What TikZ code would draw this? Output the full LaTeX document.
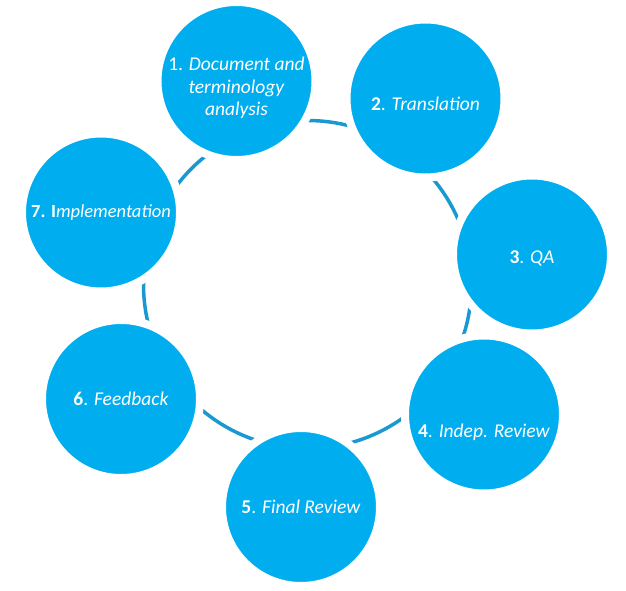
\documentclass[tikz,border=0pt]{standalone}
\usepackage{fontspec}
\setmainfont{Carlito}
\definecolor{stageblue}{HTML}{00AEEF}
\definecolor{ringblue}{HTML}{1A98D2}
\tikzset{
  stage/.style={circle, fill=stageblue, draw=white, line width=8pt,
    minimum size=158pt, inner sep=0pt},
  stagetext/.style={text=white, align=center, font=\fontsize{19.5}{22.5}\selectfont},
  ring/.style={draw=ringblue, line width=3.5pt}
}
\begin{document}
\begin{tikzpicture}[x=1pt, y=-1pt]
  \useasboundingbox (0,0) rectangle (626,591);
  \coordinate (hub) at (307.5,284.5);
  \draw[ring] (hub) circle (164pt);
  \node[stage] (s1) at (236.5,81) {};
  \node[stagetext] (t1) at ([yshift=-7pt]s1) {1. \textit{Document and}\\\textit{terminology}\\\textit{analysis}};
  \node[stage] (s2) at (425.5,98.5) {};
  \node[stagetext] (t2) at ([yshift=-5pt]s2) {\textbf{2}. \textit{Translation}};
  \node[stage] (s3) at (532,254.5) {};
  \node[stagetext] (t3) at ([yshift=-4pt]s3) {\textbf{3}. \textit{QA}};
  \node[stage] (s4) at (484,414.5) {};
  \node[stagetext] (t4) at ([yshift=-18pt]s4) {\textbf{4}. \textit{Indep. Review}};
  \node[stage] (s5) at (301,507) {};
  \node[stagetext] (t5) at (s5) {\textbf{5}. \textit{Final Review}};
  \node[stage] (s6) at (121,399) {};
  \node[stagetext] (t6) at (s6) {\textbf{6}. \textit{Feedback}};
  \node[stage] (s7) at (101,212.5) {};
  \node[stagetext, font=\fontsize{18.5}{22.5}\selectfont] (t7) at (s7) {\textbf{7. I}\textit{mplementation}};
\end{tikzpicture}
\end{document}
